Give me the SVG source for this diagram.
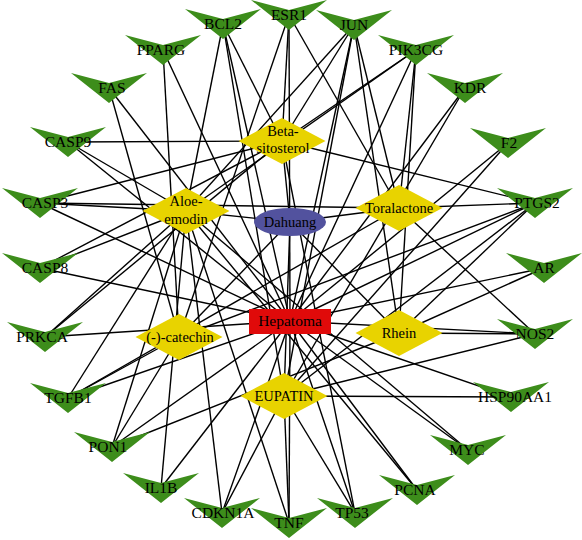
<svg xmlns="http://www.w3.org/2000/svg" width="582" height="540" viewBox="0 0 582 540">
<style>
.e{stroke:#000;stroke-width:1.4;fill:none}
.t{fill:#3d8d1b}
.c{fill:#e8d300}
.l{font-family:"Liberation Serif",serif;font-size:15.5px;fill:#000;text-anchor:middle}
.s{font-family:"Liberation Serif",serif;font-size:14.5px;fill:#000;text-anchor:middle}
</style>
<defs>
<path id="v" d="M-38,-15 L0,-5 L38,-15 L0,15 Z"/>
<path id="dm" d="M-43.5,0 L0,-23 L43.5,0 L0,23 Z"/>
</defs>
<rect width="582" height="540" fill="#fff"/>
<g id="edges" class="e">
<line x1="290" y1="222" x2="186" y2="211"/>
<line x1="290" y1="222" x2="282" y2="141"/>
<line x1="290" y1="222" x2="399" y2="208"/>
<line x1="290" y1="222" x2="399" y2="333"/>
<line x1="290" y1="222" x2="179" y2="337"/>
<line x1="290" y1="222" x2="284" y2="396"/>
<line x1="290" y1="321" x2="223" y2="24"/>
<line x1="290" y1="321" x2="289" y2="15"/>
<line x1="290" y1="321" x2="354" y2="25"/>
<line x1="290" y1="321" x2="416" y2="50"/>
<line x1="290" y1="321" x2="465" y2="88"/>
<line x1="290" y1="321" x2="508" y2="143"/>
<line x1="290" y1="321" x2="535" y2="203"/>
<line x1="290" y1="321" x2="544" y2="268"/>
<line x1="290" y1="321" x2="535" y2="334"/>
<line x1="290" y1="321" x2="511" y2="397"/>
<line x1="290" y1="321" x2="468" y2="450"/>
<line x1="290" y1="321" x2="417" y2="490"/>
<line x1="290" y1="321" x2="355" y2="513"/>
<line x1="290" y1="321" x2="289" y2="523"/>
<line x1="290" y1="321" x2="222" y2="513"/>
<line x1="290" y1="321" x2="161" y2="488"/>
<line x1="290" y1="321" x2="112" y2="447"/>
<line x1="290" y1="321" x2="68" y2="398"/>
<line x1="290" y1="321" x2="45" y2="337"/>
<line x1="290" y1="321" x2="40" y2="268"/>
<line x1="290" y1="321" x2="40" y2="203"/>
<line x1="290" y1="321" x2="68" y2="142"/>
<line x1="290" y1="321" x2="109" y2="88"/>
<line x1="290" y1="321" x2="163" y2="50"/>
<line x1="179" y1="337" x2="163" y2="50"/>
<line x1="179" y1="337" x2="109" y2="88"/>
<line x1="179" y1="337" x2="68" y2="398"/>
<line x1="179" y1="337" x2="112" y2="447"/>
<line x1="179" y1="337" x2="535" y2="203"/>
<line x1="179" y1="337" x2="289" y2="15"/>
<line x1="186" y1="211" x2="68" y2="142"/>
<line x1="186" y1="211" x2="40" y2="203"/>
<line x1="186" y1="211" x2="40" y2="268"/>
<line x1="186" y1="211" x2="45" y2="337"/>
<line x1="186" y1="211" x2="68" y2="398"/>
<line x1="186" y1="211" x2="112" y2="447"/>
<line x1="186" y1="211" x2="161" y2="488"/>
<line x1="186" y1="211" x2="222" y2="513"/>
<line x1="186" y1="211" x2="289" y2="523"/>
<line x1="186" y1="211" x2="417" y2="490"/>
<line x1="186" y1="211" x2="468" y2="450"/>
<line x1="186" y1="211" x2="416" y2="50"/>
<line x1="186" y1="211" x2="354" y2="25"/>
<line x1="186" y1="211" x2="223" y2="24"/>
<line x1="282" y1="141" x2="68" y2="142"/>
<line x1="282" y1="141" x2="40" y2="203"/>
<line x1="282" y1="141" x2="40" y2="268"/>
<line x1="282" y1="141" x2="45" y2="337"/>
<line x1="282" y1="141" x2="355" y2="513"/>
<line x1="282" y1="141" x2="535" y2="203"/>
<line x1="282" y1="141" x2="416" y2="50"/>
<line x1="282" y1="141" x2="354" y2="25"/>
<line x1="282" y1="141" x2="289" y2="15"/>
<line x1="282" y1="141" x2="223" y2="24"/>
<line x1="399" y1="208" x2="40" y2="203"/>
<line x1="399" y1="208" x2="68" y2="398"/>
<line x1="399" y1="208" x2="535" y2="334"/>
<line x1="399" y1="208" x2="535" y2="203"/>
<line x1="399" y1="208" x2="416" y2="50"/>
<line x1="399" y1="208" x2="354" y2="25"/>
<line x1="399" y1="208" x2="289" y2="15"/>
<line x1="399" y1="333" x2="535" y2="334"/>
<line x1="399" y1="333" x2="544" y2="268"/>
<line x1="399" y1="333" x2="535" y2="203"/>
<line x1="399" y1="333" x2="416" y2="50"/>
<line x1="399" y1="333" x2="354" y2="25"/>
<line x1="399" y1="333" x2="112" y2="447"/>
<line x1="284" y1="396" x2="222" y2="513"/>
<line x1="284" y1="396" x2="289" y2="523"/>
<line x1="284" y1="396" x2="355" y2="513"/>
<line x1="284" y1="396" x2="511" y2="397"/>
<line x1="284" y1="396" x2="535" y2="334"/>
<line x1="284" y1="396" x2="535" y2="203"/>
<line x1="284" y1="396" x2="508" y2="143"/>
<line x1="284" y1="396" x2="465" y2="88"/>
<line x1="284" y1="396" x2="354" y2="25"/>
<line x1="284" y1="396" x2="223" y2="24"/>
</g>
<g id="n-BCL2"><use href="#v" class="t" x="223" y="24"/><text class="l" x="223" y="29">BCL2</text></g>
<g id="n-ESR1"><use href="#v" class="t" x="289" y="15"/><text class="l" x="289" y="20">ESR1</text></g>
<g id="n-JUN"><use href="#v" class="t" x="354" y="25"/><text class="l" x="354" y="30">JUN</text></g>
<g id="n-PIK3CG"><use href="#v" class="t" x="416" y="50"/><text class="l" x="416" y="55">PIK3CG</text></g>
<g id="n-KDR"><use href="#v" class="t" x="465" y="88"/><text class="l" x="470" y="93">KDR</text></g>
<g id="n-F2"><use href="#v" class="t" x="508" y="143"/><text class="l" x="509" y="148">F2</text></g>
<g id="n-PTGS2"><use href="#v" class="t" x="535" y="203"/><text class="l" x="537" y="208">PTGS2</text></g>
<g id="n-AR"><use href="#v" class="t" x="544" y="268"/><text class="l" x="544" y="273">AR</text></g>
<g id="n-NOS2"><use href="#v" class="t" x="535" y="334"/><text class="l" x="535" y="339">NOS2</text></g>
<g id="n-HSP90AA1"><use href="#v" class="t" x="511" y="397"/><text class="l" x="515" y="402">HSP90AA1</text></g>
<g id="n-MYC"><use href="#v" class="t" x="468" y="450"/><text class="l" x="467" y="455">MYC</text></g>
<g id="n-PCNA"><use href="#v" class="t" x="417" y="490"/><text class="l" x="415" y="495">PCNA</text></g>
<g id="n-TP53"><use href="#v" class="t" x="355" y="513"/><text class="l" x="352" y="518">TP53</text></g>
<g id="n-TNF"><use href="#v" class="t" x="289" y="523"/><text class="l" x="289" y="528">TNF</text></g>
<g id="n-CDKN1A"><use href="#v" class="t" x="222" y="513"/><text class="l" x="223" y="518">CDKN1A</text></g>
<g id="n-IL1B"><use href="#v" class="t" x="161" y="488"/><text class="l" x="161" y="493">IL1B</text></g>
<g id="n-PON1"><use href="#v" class="t" x="112" y="447"/><text class="l" x="108" y="452">PON1</text></g>
<g id="n-TGFB1"><use href="#v" class="t" x="68" y="398"/><text class="l" x="68" y="403">TGFB1</text></g>
<g id="n-PRKCA"><use href="#v" class="t" x="45" y="337"/><text class="l" x="42" y="342">PRKCA</text></g>
<g id="n-CASP8"><use href="#v" class="t" x="40" y="268"/><text class="l" x="45" y="273">CASP8</text></g>
<g id="n-CASP3"><use href="#v" class="t" x="40" y="203"/><text class="l" x="45" y="208">CASP3</text></g>
<g id="n-CASP9"><use href="#v" class="t" x="68" y="142"/><text class="l" x="68" y="147">CASP9</text></g>
<g id="n-FAS"><use href="#v" class="t" x="109" y="88"/><text class="l" x="112" y="93">FAS</text></g>
<g id="n-PPARG"><use href="#v" class="t" x="163" y="50"/><text class="l" x="161" y="55">PPARG</text></g>
<g id="n-Beta"><use href="#dm" class="c" x="282" y="141"/><text class="s" x="283" y="136">Beta-</text><text class="s" x="283" y="153">sitosterol</text></g>
<g id="n-Aloe"><use href="#dm" class="c" x="186" y="211"/><text class="s" x="186" y="206">Aloe-</text><text class="s" x="186" y="224">emodin</text></g>
<g id="n-Toralactone"><use href="#dm" class="c" x="399" y="208"/><text class="s" x="399" y="213">Toralactone</text></g>
<g id="n-Rhein"><use href="#dm" class="c" x="399" y="333"/><text class="s" x="399" y="338">Rhein</text></g>
<g id="n-catechin"><use href="#dm" class="c" x="179" y="337"/><text class="s" x="180" y="342">(-)-catechin</text></g>
<g id="n-EUPATIN"><use href="#dm" class="c" x="284" y="396"/><text class="s" x="284" y="401">EUPATIN</text></g>
<g id="n-Dahuang"><ellipse cx="290" cy="222" rx="36" ry="14" fill="#52529e"/><text class="s" x="290" y="227">Dahuang</text></g>
<g id="n-Hepatoma"><rect x="249" y="309" width="82" height="25" fill="#e00a0a"/><text class="l" x="290" y="326">Hepatoma</text></g>
</svg>
